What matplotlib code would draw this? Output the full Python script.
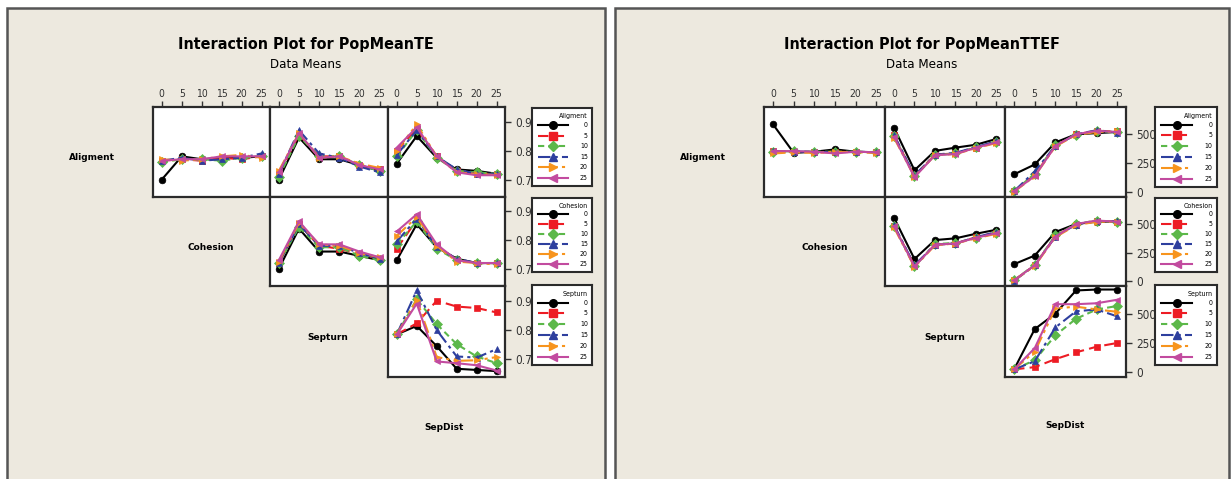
import numpy as np
import matplotlib
matplotlib.use("Agg")
import matplotlib.pyplot as plt
from matplotlib.patches import Rectangle
from matplotlib.lines import Line2D

W, H = 1231, 479

levels = [0, 5, 10, 15, 20, 25]
level_labels = ["0", "5", "10", "15", "20", "25"]
factors = ["Aligment", "Cohesion", "Septurn", "SepDist"]

# PopMeanTE means, one row per level of the line factor
te_alig_coh = [[0.700, 0.780, 0.770, 0.775, 0.775, 0.780],
               [0.765, 0.770, 0.765, 0.775, 0.770, 0.780],
               [0.760, 0.770, 0.770, 0.765, 0.775, 0.780],
               [0.765, 0.775, 0.765, 0.770, 0.775, 0.790],
               [0.770, 0.765, 0.770, 0.780, 0.785, 0.775],
               [0.765, 0.770, 0.770, 0.780, 0.780, 0.780]]
te_alig_sep = [[0.700, 0.845, 0.770, 0.770, 0.750, 0.730],
               [0.720, 0.855, 0.780, 0.780, 0.750, 0.735],
               [0.710, 0.850, 0.780, 0.780, 0.750, 0.730],
               [0.720, 0.870, 0.790, 0.775, 0.745, 0.725],
               [0.730, 0.860, 0.775, 0.780, 0.755, 0.740],
               [0.725, 0.860, 0.775, 0.780, 0.750, 0.735]]
te_alig_dist = [[0.755, 0.850, 0.775, 0.735, 0.730, 0.720],
                [0.800, 0.875, 0.780, 0.730, 0.720, 0.720],
                [0.780, 0.870, 0.775, 0.730, 0.725, 0.720],
                [0.785, 0.870, 0.780, 0.735, 0.720, 0.720],
                [0.800, 0.890, 0.780, 0.725, 0.720, 0.715],
                [0.810, 0.880, 0.780, 0.725, 0.715, 0.715]]
te_coh_sep = [[0.700, 0.840, 0.760, 0.760, 0.745, 0.730],
              [0.720, 0.855, 0.780, 0.770, 0.750, 0.735],
              [0.720, 0.845, 0.775, 0.775, 0.745, 0.730],
              [0.720, 0.855, 0.780, 0.780, 0.755, 0.735],
              [0.725, 0.860, 0.785, 0.780, 0.755, 0.740],
              [0.730, 0.865, 0.785, 0.785, 0.760, 0.740]]
te_coh_dist = [[0.730, 0.855, 0.775, 0.735, 0.720, 0.720],
               [0.770, 0.870, 0.780, 0.730, 0.720, 0.720],
               [0.785, 0.865, 0.770, 0.730, 0.720, 0.720],
               [0.795, 0.875, 0.775, 0.735, 0.720, 0.720],
               [0.815, 0.880, 0.780, 0.725, 0.720, 0.715],
               [0.830, 0.890, 0.785, 0.730, 0.720, 0.720]]
te_sep_dist = [[0.785, 0.814, 0.745, 0.668, 0.664, 0.660],
               [0.785, 0.823, 0.900, 0.880, 0.875, 0.860],
               [0.785, 0.905, 0.820, 0.752, 0.710, 0.687],
               [0.785, 0.935, 0.800, 0.710, 0.706, 0.735],
               [0.785, 0.903, 0.708, 0.695, 0.697, 0.708],
               [0.785, 0.890, 0.693, 0.687, 0.680, 0.662]]

# PopMeanTTEF means
ttef_alig_coh = [[585, 340, 350, 370, 350, 345],
                 [355, 350, 345, 345, 350, 345],
                 [350, 355, 350, 350, 350, 345],
                 [355, 350, 350, 345, 350, 345],
                 [335, 345, 340, 350, 345, 340],
                 [355, 355, 350, 335, 350, 345]]
ttef_alig_sep = [[557, 190, 357, 385, 410, 460],
                 [490, 140, 325, 335, 385, 430],
                 [485, 140, 320, 335, 390, 435],
                 [495, 145, 325, 340, 390, 440],
                 [470, 135, 320, 330, 380, 425],
                 [480, 130, 320, 330, 385, 430]]
ttef_alig_dist = [[155, 240, 430, 500, 510, 520],
                  [10, 150, 400, 500, 530, 525],
                  [10, 160, 405, 495, 525, 520],
                  [10, 180, 400, 500, 535, 515],
                  [5, 140, 395, 495, 520, 525],
                  [10, 140, 400, 500, 530, 520]]
ttef_coh_sep = [[555, 195, 360, 375, 415, 450],
                [485, 135, 320, 330, 385, 425],
                [480, 130, 325, 335, 380, 420],
                [490, 140, 320, 330, 385, 430],
                [470, 125, 315, 330, 375, 415],
                [480, 130, 320, 330, 380, 420]]
ttef_coh_dist = [[150, 225, 430, 500, 520, 520],
                 [10, 140, 395, 495, 525, 520],
                 [10, 145, 400, 500, 530, 515],
                 [5, 140, 390, 495, 525, 525],
                 [10, 135, 385, 490, 520, 520],
                 [10, 140, 390, 500, 530, 520]]
ttef_sep_dist = [[25, 368, 500, 697, 705, 705],
                 [25, 44, 112, 170, 218, 250],
                 [25, 103, 315, 456, 535, 565],
                 [25, 94, 382, 520, 535, 476],
                 [25, 176, 544, 559, 535, 515],
                 [25, 206, 580, 580, 588, 618]]

line_styles = [("#000000", "-", "o"),
               ("#ed1c24", (0, (5, 2.5)), "s"),
               ("#5cb84a", (0, (3, 2)), "D"),
               ("#2e3f9e", (0, (6, 2, 1.5, 2)), "^"),
               ("#f7941d", (0, (6, 2, 1.5, 2, 1.5, 2)), ">"),
               ("#c24b9f", "-", "<")]

BG = "#ede9df"
FRAME = "#2b2b2b"
NARROW = dict(family="DejaVu Sans", fontstretch="condensed")


def box(x0, y0, x1, y1):
    return [x0 / W, 1 - y1 / H, (x1 - x0) / W, (y1 - y0) / H]


fig = plt.figure(figsize=(W / 100, H / 100), dpi=100)
fig.patch.set_facecolor("white")

# two panel backgrounds, kept underneath every axes
panels = [(7, 605), (615, 1229)]
for (x0, x1) in panels:
    fig.patches.append(Rectangle((x0 / W, -0.05), (x1 - x0) / W, 1 - 8 / H + 0.05,
                                 transform=fig.transFigure, facecolor=BG,
                                 edgecolor="#555555", linewidth=1.8, zorder=-10))


def draw_panel(title, panel, cells, xs, ys, ylim, yticks, ytick_labels, legx, legy, labelpos):
    cx = (panel[0] + panel[1]) / 2
    fig.text(cx / W, 1 - 44 / H, title, ha="center", va="center", fontsize=11.5,
             fontweight="bold", **NARROW)
    fig.text(cx / W, 1 - 65 / H, "Data Means", ha="center", va="center",
             fontsize=9.5, **NARROW)

    for (r, c), data in cells.items():
        ax = fig.add_axes(box(xs[c], ys[r], xs[c + 1], ys[r + 1]))
        ax.set_facecolor("white")
        for lv, (col, ls, mk) in zip(data, line_styles):
            ax.plot(levels, lv, color=col, linestyle=ls, marker=mk, markersize=4.8,
                    linewidth=1.5, markeredgewidth=0.5, markeredgecolor=col)
        ax.set_xlim(-2.2, 27.1)
        ax.set_ylim(*ylim)
        for s in ax.spines.values():
            s.set_linewidth(1.6)
            s.set_color(FRAME)
        ax.tick_params(length=4, width=1, colors="#333333", labelsize=7)
        if r == 0:
            ax.xaxis.tick_top()
            ax.set_xticks(levels)
            ax.set_xticklabels(level_labels, fontsize=7.5, **NARROW)
            ax.tick_params(axis="x", pad=1.5)
        else:
            ax.set_xticks([])
        if c == 2:
            ax.yaxis.tick_right()
            ax.set_yticks(yticks)
            ax.set_yticklabels(ytick_labels, fontsize=8.5, **NARROW)
        else:
            ax.set_yticks([])

    # factor names along the diagonal
    for name, (tx, ty) in zip(factors, labelpos):
        fig.text(tx / W, 1 - ty / H, name, ha="center", va="center", fontsize=6.5,
                 fontweight="bold")

    # legend boxes, one per row factor
    for r, name in enumerate(factors[:3]):
        lax = fig.add_axes(box(legx[0], legy[r][0], legx[1], legy[r][1]))
        lax.set_xlim(0, 1)
        lax.set_ylim(0, 1)
        lax.set_xticks([])
        lax.set_yticks([])
        for s in lax.spines.values():
            s.set_linewidth(1.5)
            s.set_color(FRAME)
        lax.text(0.93, 0.93, name, ha="right", va="top", fontsize=5, **NARROW)
        for i, ((col, ls, mk), lab) in enumerate(zip(line_styles, level_labels)):
            y = 0.78 - i * 0.135
            lax.add_line(Line2D([0.1, 0.35, 0.6], [y, y, y], color=col, linestyle=ls,
                                linewidth=1.5, marker=mk, markersize=5.5, markevery=[1]))
            lax.text(0.93, y, lab, ha="right", va="center", fontsize=5, **NARROW)


ys = [107, 197, 286, 377]

draw_panel("Interaction Plot for PopMeanTE", panels[0],
           {(0, 0): te_alig_coh, (0, 1): te_alig_sep, (0, 2): te_alig_dist,
            (1, 1): te_coh_sep, (1, 2): te_coh_dist, (2, 2): te_sep_dist},
           [153, 270, 388, 505], ys, (0.64, 0.95),
           [0.7, 0.8, 0.9], ["0.7", "0.8", "0.9"],
           (532, 592), [(108, 186), (198, 272), (285, 365)],
           [(92, 158), (211, 247), (328, 337), (444, 428)])

draw_panel("Interaction Plot for PopMeanTTEF", panels[1],
           {(0, 0): ttef_alig_coh, (0, 1): ttef_alig_sep, (0, 2): ttef_alig_dist,
            (1, 1): ttef_coh_sep, (1, 2): ttef_coh_dist, (2, 2): ttef_sep_dist},
           [764, 885, 1005, 1126], ys, (-40, 735),
           [0, 250, 500], ["0", "250", "500"],
           (1155, 1217), [(107, 187), (198, 272), (285, 365)],
           [(703, 158), (825, 247), (945, 337), (1065, 425)])

fig.savefig("out.png", dpi=100, facecolor=fig.get_facecolor())
